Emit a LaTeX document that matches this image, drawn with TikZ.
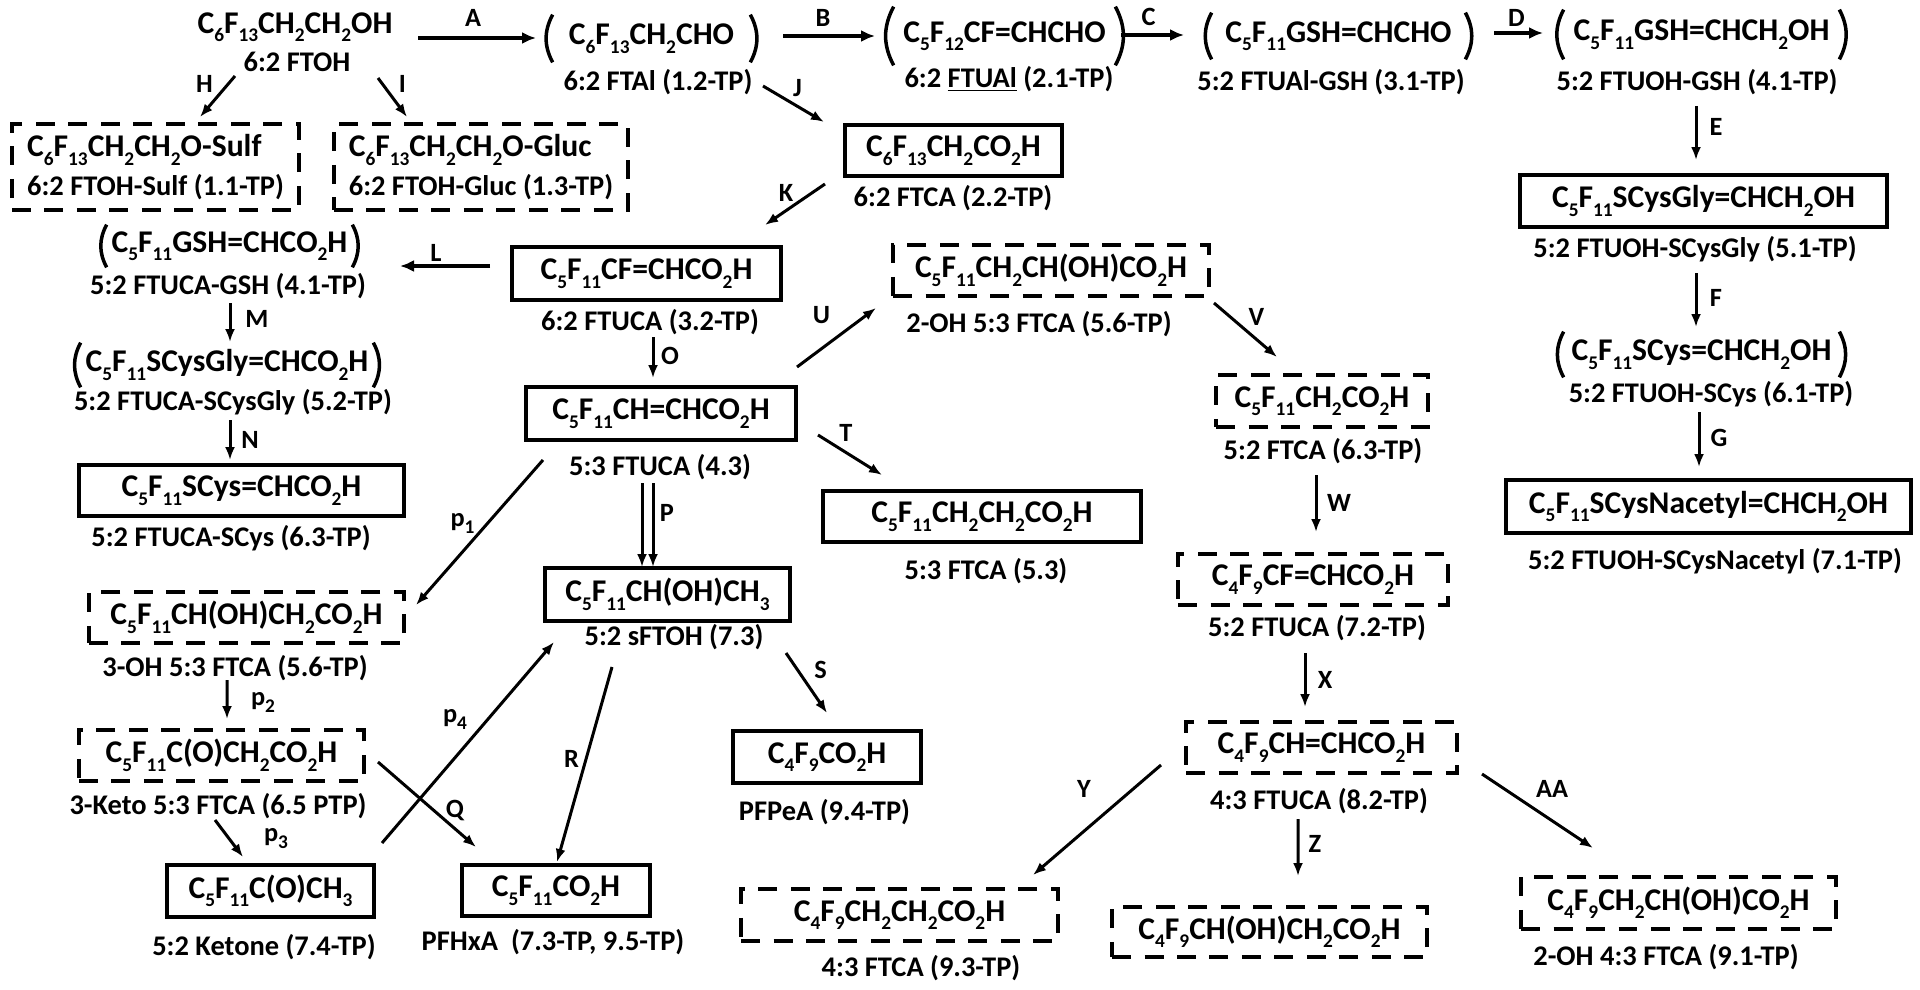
\documentclass[tikz,border=0pt]{standalone}
\usepackage{fontspec}
\setmainfont{Carlito}
\usetikzlibrary{arrows.meta}
\newcommand{\low}[1]{\raisebox{-0.55ex}{\fontsize{11}{11}\selectfont #1}}
\begin{document}
\begin{tikzpicture}[
  x=0.02cm, y=-0.02cm,
  sz/.style 2 args={minimum width=#1*0.02cm, minimum height=#2*0.02cm},
  every node/.style={font=\fontsize{16.2}{18}\selectfont\bfseries, inner sep=0pt},
  chem/.style={font=\fontsize{18}{21}\selectfont\bfseries},
  solidbox/.style={chem, draw, line width=0.085cm},
  dashbox/.style={chem, draw, line width=0.08cm, dash pattern=on 0.38cm off 0.27cm},
  parenline/.style={draw, line width=0.07cm},
  paren/.style={chem, append after command={
    (\tikzlastnode.north west) edge[parenline, bend right=28] (\tikzlastnode.south west)
    (\tikzlastnode.north east) edge[parenline, bend left=28] (\tikzlastnode.south east)}},
  arrow/.style={-{Latex[length=0.26cm,width=0.2cm]}, line width=0.06cm},
  heavy/.style={-{Latex[length=0.28cm,width=0.24cm]}, line width=0.08cm},
  tag/.style={font=\fontsize{15}{17}\selectfont\bfseries}
]
\useasboundingbox (0,0) rectangle (1920,990);
% top row
\node[chem] (ftoh) at (295,27) {C\low{6}F\low{13}CH\low{2}CH\low{2}OH};
\node (ftohL) at (297,62) {6:2 FTOH};
\node[paren, sz={197}{47}] (ftal) at (651.5,38.5) {C\low{6}F\low{13}CH\low{2}CHO};
\node (ftalL) at (658,82) {6:2 FTAl (1.2-TP)};
\node[paren, sz={221}{58}] (ftual) at (1004.5,36) {C\low{5}F\low{12}CF=CHCHO};
\node (ftualL) at (1009,79) {6:2 \underline{FTUAl} (2.1-TP)};
\node[paren, sz={253}{46}] (ftualgsh) at (1338.5,36) {C\low{5}F\low{11}GSH=CHCHO};
\node (ftualgshL) at (1331,82) {5:2 FTUAl-GSH (3.1-TP)};
\node[paren, sz={275}{49}] (ftuohgsh) at (1701.5,34.5) {C\low{5}F\low{11}GSH=CHCH\low{2}OH};
\node (ftuohgshL) at (1697,82) {5:2 FTUOH-GSH (4.1-TP)};
% conjugates
\node[dashbox, sz={287}{86}, align=left] (sulf) at (155.5,167) {C\low{6}F\low{13}CH\low{2}CH\low{2}O-Sulf\\[1pt]{\fontsize{16.2}{18}\selectfont 6:2 FTOH-Sulf (1.1-TP)}};
\node[dashbox, sz={294}{86}, align=left] (gluc) at (481,167) {C\low{6}F\low{13}CH\low{2}CH\low{2}O-Gluc\\[1pt]{\fontsize{16.2}{18}\selectfont 6:2 FTOH-Gluc (1.3-TP)}};
\node[solidbox, sz={217}{51}] (ftca22) at (953.5,150.5) {C\low{6}F\low{13}CH\low{2}CO\low{2}H};
\node (ftca22L) at (953,198) {6:2 FTCA (2.2-TP)};
% left column
\node[paren, sz={245}{42}] (ftucagsh) at (229.5,246) {C\low{5}F\low{11}GSH=CHCO\low{2}H};
\node (ftucagshL) at (228,286) {5:2 FTUCA-GSH (4.1-TP)};
\node[paren, sz={292}{44}] (scysgly) at (227,365) {C\low{5}F\low{11}SCysGly=CHCO\low{2}H};
\node (scysglyL) at (233,402) {5:2 FTUCA-SCysGly (5.2-TP)};
\node[solidbox, sz={325}{51}] (scys) at (241.5,490.5) {C\low{5}F\low{11}SCys=CHCO\low{2}H};
\node (scysL) at (231,538) {5:2 FTUCA-SCys (6.3-TP)};
\node[dashbox, sz={315}{51}] (oh3) at (246.5,617.5) {C\low{5}F\low{11}CH(OH)CH\low{2}CO\low{2}H};
\node (oh3L) at (235,668) {3-OH 5:3 FTCA (5.6-TP)};
\node[dashbox, sz={285}{51}] (keto) at (221.5,755.5) {C\low{5}F\low{11}C(O)CH\low{2}CO\low{2}H};
\node (ketoL) at (218,806) {3-Keto 5:3 FTCA (6.5 PTP)};
\node[solidbox, sz={207}{52}] (ketone) at (270.5,891) {C\low{5}F\low{11}C(O)CH\low{3}};
\node (ketoneL) at (264,947) {5:2 Ketone (7.4-TP)};
% middle column
\node[solidbox, sz={269}{53}] (cfacid) at (646.5,273.5) {C\low{5}F\low{11}CF=CHCO\low{2}H};
\node (cfacidL) at (650,322) {6:2 FTUCA (3.2-TP)};
\node[solidbox, sz={270}{53}] (ftuca43) at (661,413.5) {C\low{5}F\low{11}CH=CHCO\low{2}H};
\node (ftuca43L) at (660,467) {5:3 FTUCA (4.3)};
\node[solidbox, sz={245}{53}] (sftoh) at (667.5,594.5) {C\low{5}F\low{11}CH(OH)CH\low{3}};
\node (sftohL) at (674,637) {5:2 sFTOH (7.3)};
\node[solidbox, sz={188}{51}] (pfhxa) at (556,890.5) {C\low{5}F\low{11}CO\low{2}H};
\node (pfhxaL) at (553,942) {PFHxA~~(7.3-TP, 9.5-TP)};
\node[solidbox, sz={188}{52}] (pfpea) at (827,757) {C\low{4}F\low{9}CO\low{2}H};
\node (pfpeaL) at (824.5,812) {PFPeA (9.4-TP)};
\node[solidbox, sz={318}{51}] (ftca53) at (982,516.5) {C\low{5}F\low{11}CH\low{2}CH\low{2}CO\low{2}H};
\node (ftca53L) at (986,571) {5:3 FTCA (5.3)};
% right of middle
\node[dashbox, sz={316}{51}] (oh2) at (1051,270.5) {C\low{5}F\low{11}CH\low{2}CH(OH)CO\low{2}H};
\node (oh2L) at (1039,324) {2-OH 5:3 FTCA (5.6-TP)};
\node[dashbox, sz={212}{52}] (ftca63) at (1322,401) {C\low{5}F\low{11}CH\low{2}CO\low{2}H};
\node (ftca63L) at (1323,451) {5:2 FTCA (6.3-TP)};
\node[dashbox, sz={270}{51}] (ftuca72) at (1313,579.5) {C\low{4}F\low{9}CF=CHCO\low{2}H};
\node (ftuca72L) at (1317,628) {5:2 FTUCA (7.2-TP)};
\node[dashbox, sz={271}{51}] (ftuca82) at (1321.5,747.5) {C\low{4}F\low{9}CH=CHCO\low{2}H};
\node (ftuca82L) at (1319,801) {4:3 FTUCA (8.2-TP)};
\node[dashbox, sz={317}{52}] (ftca93) at (899.5,915) {C\low{4}F\low{9}CH\low{2}CH\low{2}CO\low{2}H};
\node (ftca93L) at (921,968) {4:3 FTCA (9.3-TP)};
\node[dashbox, sz={315}{50}] (zprod) at (1269.5,932) {C\low{4}F\low{9}CH(OH)CH\low{2}CO\low{2}H};
\node[dashbox, sz={315}{52}] (oh491) at (1678.5,903) {C\low{4}F\low{9}CH\low{2}CH(OH)CO\low{2}H};
\node (oh491L) at (1666,957) {2-OH 4:3 FTCA (9.1-TP)};
% right column
\node[solidbox, sz={367}{52}] (sg51) at (1703.5,201) {C\low{5}F\low{11}SCysGly=CHCH\low{2}OH};
\node (sg51L) at (1695,249) {5:2 FTUOH-SCysGly (5.1-TP)};
\node[paren, sz={275}{45}] (scys61) at (1701.5,354.5) {C\low{5}F\low{11}SCys=CHCH\low{2}OH};
\node (scys61L) at (1711,394) {5:2 FTUOH-SCys (6.1-TP)};
\node[solidbox, sz={405}{53}] (sn71) at (1708.5,506.5) {C\low{5}F\low{11}SCysNacetyl=CHCH\low{2}OH};
\node (sn71L) at (1715,561) {5:2 FTUOH-SCysNacetyl (7.1-TP)};
% connectors
\draw[heavy] ([shift={(123,11)}]ftoh.center) -- node[tag, shift={(-4,-20)}] (tagA) {A} ([shift={(-115.5,-0.5)}]ftal.center);
\draw[heavy] ([shift={(131.5,-2.5)}]ftal.center) -- node[tag, shift={(-6,-18)}] (tagB) {B} ([shift={(-129.5,0)}]ftual.center);
\draw[heavy] ([shift={(116.5,-1)}]ftual.center) -- node[tag, shift={(-4,-18)}] (tagC) {C} ([shift={(-154.5,-1)}]ftualgsh.center);
\draw[heavy] ([shift={(155.5,-3)}]ftualgsh.center) -- node[tag, shift={(-2,-15)}] (tagD) {D} ([shift={(-158.5,-1.5)}]ftuohgsh.center);
\draw[arrow] ([shift={(-1,24)}]ftuohgshL.center) -- node[tag, shift={(20,-6)}] (tagE) {E} ([shift={(-7.5,-41)}]sg51.center);
\draw[arrow] ([shift={(1,24)}]sg51L.center) -- node[tag, shift={(20,-2)}] (tagF) {F} ([shift={(-5.5,-27.5)}]scys61.center);
\draw[arrow] ([shift={(-12,18)}]scys61L.center) -- node[tag, shift={(20,-2)}] (tagG) {G} ([shift={(-9.5,-39.5)}]sn71.center);
\draw[arrow] ([shift={(-62,14)}]ftohL.center) -- node[tag, shift={(-13,-13)}] (tagH) {H} ([shift={(44.5,-50)}]sulf.center);
\draw[arrow] ([shift={(81,16)}]ftohL.center) -- node[tag, shift={(10,-14)}] (tagI) {I} ([shift={(-74,-50)}]gluc.center);
\draw[arrow] ([shift={(105,4)}]ftalL.center) -- node[tag, shift={(4,-16)}] (tagJ) {J} ([shift={(-129.5,-28.5)}]ftca22.center);
\draw[arrow] ([shift={(-128,-14)}]ftca22L.center) -- node[tag, shift={(-9,-12)}] (tagK) {K} ([shift={(118.5,-48.5)}]cfacid.center);
\draw[heavy] ([shift={(-156.5,-7.5)}]cfacid.center) -- node[tag, shift={(-9,-13)}] (tagL) {L} ([shift={(170.5,20)}]ftucagsh.center);
\draw[arrow] ([shift={(2,17)}]ftucagshL.center) -- node[tag, shift={(27,-4)}] (tagM) {M} ([shift={(3,-23)}]scysgly.center);
\draw[arrow] ([shift={(-3,18)}]scysglyL.center) -- node[tag, shift={(20,0)}] (tagN) {N} ([shift={(-11.5,-30.5)}]scys.center);
\draw[arrow] ([shift={(3,15)}]cfacidL.center) -- node[tag, shift={(17,-2)}] (tagO) {O} ([shift={(-8,-35.5)}]ftuca43.center);
\draw[arrow] ([shift={(-18,16)}]ftuca43L.center) -- ([shift={(-25.5,-27.5)}]sftoh.center);
\draw[arrow] ([shift={(-7,16)}]ftuca43L.center) -- node[tag, shift={(14,-12)}] (tagP) {P} ([shift={(-14.5,-27.5)}]sftoh.center);
\draw[arrow] ([shift={(-117,-7)}]ftuca43L.center) -- node[tag, shift={(-17,-9)}] (tagpa) {p\low{1}} ([shift={(169.5,-12.5)}]oh3.center);
\draw[arrow] ([shift={(-8,12)}]oh3L.center) -- node[tag, shift={(36,3)}] (tagpb) {p\low{2}} ([shift={(5.5,-36.5)}]keto.center);
\draw[arrow] ([shift={(-3,14)}]ketoL.center) -- node[tag, shift={(47,0)}] (tagpc) {p\low{3}} ([shift={(-27.5,-34)}]ketone.center);
\draw[arrow] ([shift={(111.5,-48)}]ketone.center) -- node[tag, shift={(-13,-23)}] (tagpd) {p\low{4}} ([shift={(-113.5,47.5)}]sftoh.center);
\draw[arrow] ([shift={(156.5,6.5)}]keto.center) -- node[tag, shift={(28,6)}] (tagQ) {Q} ([shift={(-80,-43.5)}]pfhxa.center);
\draw[arrow] ([shift={(-62,30)}]sftohL.center) -- node[tag, shift={(-13,-6)}] (tagR) {R} ([shift={(1,-28.5)}]pfhxa.center);
\draw[arrow] ([shift={(112,16)}]sftohL.center) -- node[tag, shift={(14,-13)}] (tagS) {S} ([shift={(0,-44)}]pfpea.center);
\draw[arrow] ([shift={(157,21.5)}]ftuca43.center) -- node[tag, shift={(-4,-22)}] (tagT) {T} ([shift={(-100,-41.5)}]ftca53.center);
\draw[arrow] ([shift={(136,-46.5)}]ftuca43.center) -- node[tag, shift={(-15,-22)}] (tagU) {U} ([shift={(-175,37.5)}]oh2.center);
\draw[arrow] ([shift={(163,32.5)}]oh2.center) -- node[tag, shift={(11,-13)}] (tagV) {V} ([shift={(-45,-44)}]ftca63.center);
\draw[arrow] ([shift={(-7,24)}]ftca63L.center) -- node[tag, shift={(23,-1)}] (tagW) {W} ([shift={(3,-47.5)}]ftuca72.center);
\draw[arrow] ([shift={(-12,25)}]ftuca72L.center) -- node[tag, shift={(20,0)}] (tagX) {X} ([shift={(-16.5,-40.5)}]ftuca82.center);
\draw[arrow] ([shift={(-160.5,17.5)}]ftuca82.center) -- node[tag, shift={(-13,-31)}] (tagY) {Y} ([shift={(133.5,-40)}]ftca93.center);
\draw[arrow] ([shift={(-21,18)}]ftuca82L.center) -- node[tag, shift={(17,-4)}] (tagZ) {Z} ([shift={(28.5,-56)}]zprod.center);
\draw[arrow] ([shift={(160.5,26.5)}]ftuca82.center) -- node[tag, shift={(14.5,-22)}] (tagAA) {AA} ([shift={(-85.5,-55)}]oh491.center);
\end{tikzpicture}
\end{document}
